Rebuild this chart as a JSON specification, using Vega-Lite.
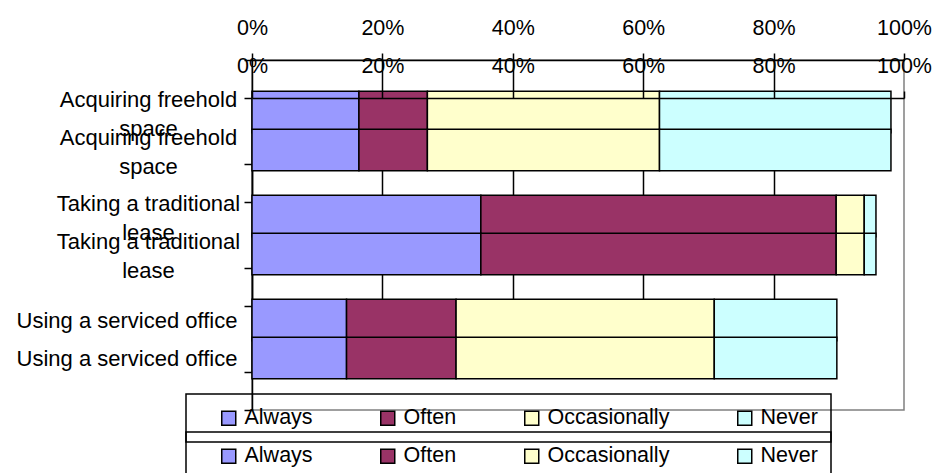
{
  "$schema": "https://vega.github.io/schema/vega-lite/v6.json",
  "autosize": "none",
  "width": 652,
  "height": 350,
  "padding": {"left": 252, "top": 60, "right": 30, "bottom": 63},
  "config": {
    "font": "Liberation Sans",
    "view": {"stroke": "#808080", "strokeWidth": 1.5},
    "legend": {"labelFont": "Liberation Sans"}
  },
  "data": {
    "values": [
      {"activity": "Acquiring freehold space", "freq": "Always", "k": 1, "pct": 0.164},
      {"activity": "Acquiring freehold space", "freq": "Often", "k": 2, "pct": 0.105},
      {"activity": "Acquiring freehold space", "freq": "Occasionally", "k": 3, "pct": 0.356},
      {"activity": "Acquiring freehold space", "freq": "Never", "k": 4, "pct": 0.355},
      {"activity": "Taking a traditional lease", "freq": "Always", "k": 1, "pct": 0.351},
      {"activity": "Taking a traditional lease", "freq": "Often", "k": 2, "pct": 0.545},
      {"activity": "Taking a traditional lease", "freq": "Occasionally", "k": 3, "pct": 0.043},
      {"activity": "Taking a traditional lease", "freq": "Never", "k": 4, "pct": 0.018},
      {"activity": "Using a serviced office", "freq": "Always", "k": 1, "pct": 0.145},
      {"activity": "Using a serviced office", "freq": "Often", "k": 2, "pct": 0.168},
      {"activity": "Using a serviced office", "freq": "Occasionally", "k": 3, "pct": 0.396},
      {"activity": "Using a serviced office", "freq": "Never", "k": 4, "pct": 0.188}
    ]
  },
  "layer": [
    {
      "mark": {"type": "bar", "stroke": "black", "strokeWidth": 1.5, "height": {"band": 0.4}},
      "encoding": {
        "y": {
          "field": "activity", "type": "nominal",
          "sort": ["Acquiring freehold space", "Taking a traditional lease", "Using a serviced office"],
          "scale": {"range": [0, 312], "paddingInner": 0, "paddingOuter": 0},
          "axis": {
            "orient": "left", "title": null, "tickBand": "extent",
            "tickSize": 8, "tickColor": "black", "tickWidth": 1.5,
            "domainColor": "black", "domainWidth": 1.5,
            "labelFontSize": 22, "labelColor": "black", "labelLimit": 0, "labelOverlap": false,
            "labelExpr": "datum.label == 'Acquiring freehold space' ? ['Acquiring freehold', 'space'] : datum.label == 'Taking a traditional lease' ? ['Taking a traditional', 'lease'] : datum.label",
            "labelLineHeight": 29,
            "labelBaseline": "middle",
            "labelAlign": {"condition": {"test": "datum.value == 'Using a serviced office'", "value": "right"}, "value": "center"},
            "labelPadding": {"condition": {"test": "datum.value == 'Using a serviced office'", "value": 7}, "value": 96},
            "labelOffset": {"condition": {"test": "datum.value == 'Using a serviced office'", "value": 0}, "value": -13}
          }
        },
        "x": {
          "field": "pct", "type": "quantitative", "stack": "zero",
          "scale": {"domain": [0, 1]},
          "axis": {
            "orient": "top", "title": null, "format": "%", "values": [0, 0.2, 0.4, 0.6, 0.8, 1],
            "grid": true,
            "gridColor": {"condition": {"test": "datum.value > 0.001 && datum.value < 0.999", "value": "black"}, "value": "transparent"},
            "gridWidth": 1.5,
            "domainColor": "black", "domainWidth": 1.5,
            "tickColor": "black", "tickSize": 7, "tickWidth": 1.5,
            "labelFontSize": 21.5, "labelColor": "black", "labelPadding": 14,
            "labelFlush": false, "labelOverlap": false
          }
        },
        "color": {
          "field": "freq", "type": "nominal",
          "scale": {"domain": ["Always", "Often", "Occasionally", "Never"], "range": ["#9999FF", "#993366", "#FFFFCC", "#CCFFFF"]},
          "legend": {
            "orient": "none", "legendX": -66, "legendY": 334,
            "direction": "horizontal", "columns": 4,
            "title": " ", "titleOrient": "left", "titleFontSize": 1, "titlePadding": 19,
            "symbolType": "square", "symbolSize": 196, "symbolStrokeColor": "black", "symbolStrokeWidth": 1.5, "symbolOpacity": 1,
            "labelFontSize": 21.5, "labelColor": "black", "labelOffset": 5, "labelLimit": 0,
            "columnPadding": 64, "padding": 13, "strokeColor": "black",
            "encode": {"legend": {"update": {"strokeWidth": {"value": 1.5}}}}
          }
        },
        "order": {"field": "k", "type": "quantitative"}
      }
    },
    {
      "mark": {"type": "bar", "stroke": "black", "strokeWidth": 1.5, "height": {"band": 0.4}},
      "encoding": {
        "y": {
          "field": "activity", "type": "nominal",
          "sort": ["Acquiring freehold space", "Taking a traditional lease", "Using a serviced office"],
          "scale": {"range": [38, 350], "paddingInner": 0, "paddingOuter": 0},
          "axis": {
            "orient": "left", "title": null, "tickBand": "extent",
            "tickSize": 8, "tickColor": "black", "tickWidth": 1.5,
            "domainColor": "black", "domainWidth": 1.5,
            "labelFontSize": 22, "labelColor": "black", "labelLimit": 0, "labelOverlap": false,
            "labelExpr": "datum.label == 'Acquiring freehold space' ? ['Acquiring freehold', 'space'] : datum.label == 'Taking a traditional lease' ? ['Taking a traditional', 'lease'] : datum.label",
            "labelLineHeight": 29,
            "labelBaseline": "middle",
            "labelAlign": {"condition": {"test": "datum.value == 'Using a serviced office'", "value": "right"}, "value": "center"},
            "labelPadding": {"condition": {"test": "datum.value == 'Using a serviced office'", "value": 7}, "value": 96},
            "labelOffset": {"condition": {"test": "datum.value == 'Using a serviced office'", "value": 0}, "value": -13}
          }
        },
        "x": {
          "field": "pct", "type": "quantitative", "stack": "zero",
          "scale": {"domain": [0, 1]},
          "axis": {
            "orient": "top", "offset": -38, "zindex": 1, "title": null, "format": "%", "values": [0, 0.2, 0.4, 0.6, 0.8, 1],
            "grid": false,
            "domainColor": "black", "domainWidth": 1.5,
            "tickColor": "black", "tickSize": 7, "tickWidth": 1.5,
            "labelFontSize": 21.5, "labelColor": "black", "labelPadding": 14,
            "labelFlush": false, "labelOverlap": false
          }
        },
        "color": {
          "field": "freq", "type": "nominal",
          "scale": {"domain": ["Always", "Often", "Occasionally", "Never"], "range": ["#9999FF", "#993366", "#FFFFCC", "#CCFFFF"]},
          "legend": {
            "orient": "none", "legendX": -66, "legendY": 372,
            "direction": "horizontal", "columns": 4,
            "title": " ", "titleOrient": "left", "titleFontSize": 1, "titlePadding": 19,
            "symbolType": "square", "symbolSize": 196, "symbolStrokeColor": "black", "symbolStrokeWidth": 1.5, "symbolOpacity": 1,
            "labelFontSize": 21.5, "labelColor": "black", "labelOffset": 5, "labelLimit": 0,
            "columnPadding": 64, "padding": 13, "strokeColor": "black",
            "encode": {"legend": {"update": {"strokeWidth": {"value": 1.5}}}}
          }
        },
        "order": {"field": "k", "type": "quantitative"}
      }
    }
  ],
  "resolve": {
    "scale": {"x": "independent", "y": "independent", "color": "independent"},
    "axis": {"x": "independent", "y": "independent"},
    "legend": {"color": "independent"}
  }
}
